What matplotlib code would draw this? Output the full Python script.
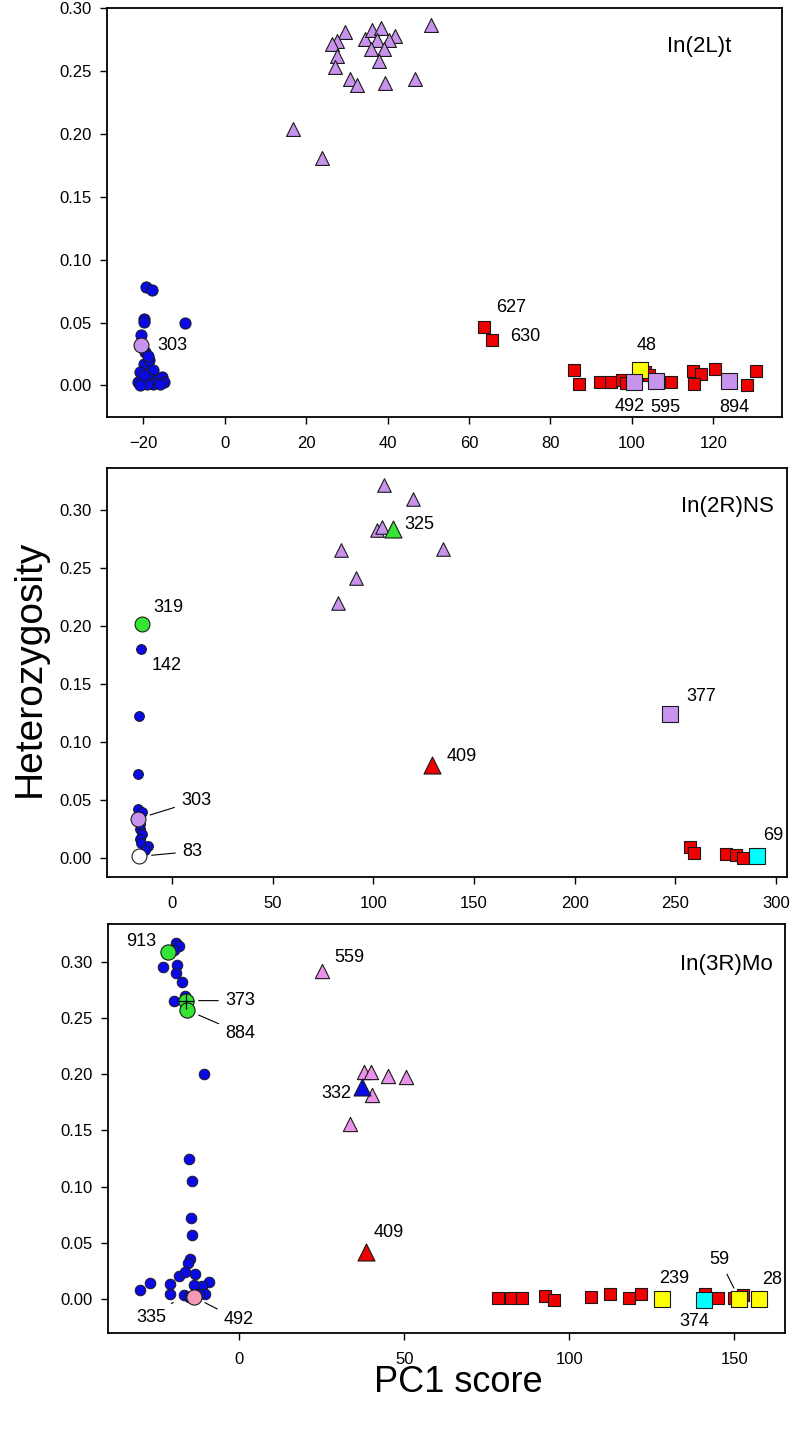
import matplotlib
matplotlib.use('Agg')
import matplotlib.pyplot as plt

plt.rcParams['font.family'] = ['Liberation Sans', 'DejaVu Sans']

# ================= DATA =================
# ---- Panel 1: In(2L)t ----
p1_title = 'In(2L)t'
p1_xticks = [-20, 0, 20, 40, 60, 80, 100, 120]
p1_circle_x = [-19.3, -17.9, -9.7, -19.9, -19.7, -20.5, -19.5, -19.8, -18.7, -17.6, -20.7,
               -19.9, -18.3, -16.6, -15.4, -15.0, -21.2, -17.5, -19.1, -20.7, -15.8, -19.7, -18.9]
p1_circle_y = [0.078, 0.076, 0.050, 0.053, 0.0505, 0.040, 0.0266, 0.0173, 0.020, 0.012, 0.0106,
               0.004, 0.0053, 0.004, 0.0066, 0.0026, 0.0026, 0.0013, 0.0013, 0.000, 0.0013, 0.008, 0.023]
p1_triangle_x = [29.5, 27.6, 26.4, 34.4, 36.3, 38.3, 41.8, 37.3, 40.4, 36.0, 39.1, 27.7, 37.9,
                 27.1, 30.7, 32.4, 39.3, 46.7, 50.8, 16.7, 24.0]
p1_triangle_y = [0.281, 0.274, 0.272, 0.276, 0.283, 0.284, 0.278, 0.275, 0.275, 0.268, 0.268,
                 0.262, 0.258, 0.253, 0.244, 0.239, 0.241, 0.244, 0.287, 0.204, 0.181]
p1_square_x = [63.8, 65.6, 85.7, 87.1, 92.2, 94.9, 97.6, 98.5, 103.3, 104.3, 109.6, 115.1, 116.9,
               115.3, 120.4, 128.4, 130.6]
p1_square_y = [0.0465, 0.0364, 0.0125, 0.0013, 0.0027, 0.0027, 0.0045, 0.0019, 0.0106, 0.008,
               0.0027, 0.0114, 0.0088, 0.0013, 0.0133, 0.0006, 0.0114]
p1_special_id = ['303', '48', '492', '595', '894']
p1_special_x = [-20.6, 102.0, 100.6, 105.9, 123.9]
p1_special_y = [0.032, 0.0125, 0.0027, 0.0032, 0.0034]
p1_label_text = ['303', '627', '630', '48', '492', '595', '894']
p1_label_x = [-20.6, 63.8, 65.6, 102.0, 100.6, 105.9, 123.9]
p1_label_y = [0.032, 0.0465, 0.0364, 0.0125, 0.0027, 0.0032, 0.0034]

# ---- Panel 2: In(2R)NS ----
p2_title = 'In(2R)NS'
p2_xticks = [0, 50, 100, 150, 200, 250, 300]
p2_circle_x = [-15.4, -16.3, -17.1, -16.8, -15.1, -15.9, -15.1, -15.9, -15.6, -11.8, -13.4, -16.0]
p2_circle_y = [0.180, 0.1227, 0.073, 0.0428, 0.040, 0.0256, 0.0213, 0.017, 0.0132, 0.0103, 0.0069, 0.030]
p2_triangle_x = [105.1, 119.6, 101.8, 104.3, 83.9, 134.5, 91.2, 82.7]
p2_triangle_y = [0.3216, 0.309, 0.283, 0.2856, 0.2655, 0.266, 0.241, 0.2195]
p2_square_x = [257.5, 259.5, 275.0, 280.0, 283.7]
p2_square_y = [0.0097, 0.0046, 0.0034, 0.0026, 0.0006]
p2_special_id = ['319', '303', '83', '325', '409', '377', '69']
p2_special_x = [-14.8, -16.8, -16.3, 109.8, 129.2, 247.4, 290.5]
p2_special_y = [0.2017, 0.0342, 0.0017, 0.2833, 0.080, 0.1247, 0.0023]
p2_label_text = ['319', '142', '325', '409', '303', '83', '377', '69']
p2_label_x = [-14.8, -15.4, 109.8, 129.2, -16.8, -16.3, 247.4, 290.5]
p2_label_y = [0.2017, 0.180, 0.2833, 0.080, 0.0342, 0.0017, 0.1247, 0.0023]

# ---- Panel 3: In(3R)Mo ----
p3_title = 'In(3R)Mo'
p3_xticks = [0, 50, 100, 150]
p3_circle_x = [-19.1, -18.4, -19.7, -23.1, -18.9, -19.1, -17.4, -19.9, -16.4, -10.8,
               -15.1, -14.3, -14.5, -14.3, -14.8, -15.7, -18.4, -13.3, -16.4, -27.0, -30.0,
               -21.1, -9.3, -11.3, -13.8, -20.9, -10.3, -16.9, -15.4, -12.3]
p3_circle_y = [0.3165, 0.314, 0.3105, 0.295, 0.297, 0.290, 0.282, 0.2654, 0.2696, 0.200,
               0.1243, 0.105, 0.0718, 0.057, 0.0362, 0.0318, 0.0205, 0.0222, 0.0243, 0.0145, 0.008,
               0.0133, 0.0154, 0.0116, 0.0125, 0.0045, 0.0045, 0.0036, 0.002, 0.005]
p3_triangle_x = [25.0, 37.9, 39.9, 45.1, 50.6, 40.2, 33.4]
p3_triangle_y = [0.292, 0.2022, 0.2022, 0.1987, 0.1978, 0.1815, 0.156]
p3_square_x = [78.4, 82.5, 85.6, 92.7, 95.4, 106.6, 112.5, 118.0, 121.9, 141.2, 145.2, 149.8, 152.8]
p3_square_y = [0.0012, 0.0012, 0.0012, 0.003, -0.0003, 0.002, 0.0045, 0.0012, 0.0045, 0.0045,
               0.0012, 0.0012, 0.0036]
p3_special_id = ['913', '373', '884', '492', '332', '409', '239', '374', '59', '28']
p3_special_x = [-21.6, -16.1, -15.8, -13.8, 37.2, 38.4, 128.0, 141.0, 151.6, 157.4]
p3_special_y = [0.309, 0.2654, 0.257, 0.002, 0.189, 0.042, 0.0, -0.001, 0.0, 0.0]
p3_label_text = ['913', '373', '884', '335', '492', '559', '332', '409', '239', '374', '59', '28']
p3_label_x = [-21.6, -16.1, -15.8, -16.9, -13.8, 25.0, 37.2, 38.4, 128.0, 141.0, 151.6, 157.4]
p3_label_y = [0.309, 0.2654, 0.257, 0.0036, 0.002, 0.292, 0.189, 0.042, 0.0, -0.001, 0.0, 0.0]

# ================= STYLES =================
BLUE = '#0a0ae6'
LAV = '#c893ec'
PINKV = '#ea92ea'
RED = '#f00000'
YEL = '#ffff00'
CYAN = '#00ffff'
GREEN = '#33e633'
PINK = '#f49ab4'
WHITE = '#ffffff'
EC = '#1a1a1a'

special_style = {
    1: {'303': ('o', LAV, 115), '48': ('s', YEL, 125), '492': ('s', LAV, 125),
        '595': ('s', LAV, 125), '894': ('s', LAV, 125)},
    2: {'319': ('o', GREEN, 115), '303': ('o', LAV, 115), '83': ('o', WHITE, 115),
        '325': ('^', GREEN, 150), '409': ('^', RED, 150), '377': ('s', LAV, 125),
        '69': ('s', CYAN, 125)},
    3: {'913': ('o', GREEN, 120), '373': ('o', GREEN, 120), '884': ('o', GREEN, 120),
        '492': ('o', PINK, 120), '332': ('^', BLUE, 150), '409': ('^', RED, 150),
        '239': ('s', YEL, 125), '374': ('s', CYAN, 125), '59': ('s', YEL, 125),
        '28': ('s', YEL, 125)},
}
# label offsets in pixels (dx, dy down-positive, ha, leader)
label_style = {
    1: {'303': (17, 0, 'left', False), '627': (12, -19, 'left', False),
        '630': (18, -3, 'left', False), '48': (7, -24, 'center', False),
        '492': (-5, 25, 'center', False), '595': (10, 26, 'center', False),
        '894': (5, 26, 'center', False)},
    2: {'319': (11, -17, 'left', False), '142': (11, 16, 'left', False),
        '325': (11, -5, 'left', False), '409': (15, -9, 'left', False),
        '303': (43, -18, 'left', True), '83': (43, -5, 'left', True),
        '377': (16, -17, 'left', False), '69': (6, -20, 'left', False)},
    3: {'913': (-12, -10, 'right', False), '373': (39, 0, 'left', True),
        '884': (38, 23, 'left', True), '335': (-17, 22, 'right', True),
        '492': (30, 23, 'left', True), '559': (13, -13, 'left', False),
        '332': (-11, 7, 'right', False), '409': (8, -19, 'left', False),
        '239': (-2, -21, 'left', False), '374': (5, 21, 'right', False),
        '59': (-20, -40, 'center', True), '28': (4, -20, 'left', False)},
}

fig = plt.figure(figsize=(7.93, 14.29), dpi=100)
H = 1429.0
W = 793.0

panels = [
    dict(n=1, rect=(107, 8, 782, 417), xlim=(-28.9, 136.9), ylim=(-0.0252, 0.3003),
         title=p1_title, xticks=p1_xticks,
         cx=p1_circle_x, cy=p1_circle_y, cs=65,
         tx=p1_triangle_x, ty=p1_triangle_y, tc=LAV, ts=100,
         sx=p1_square_x, sy=p1_square_y, ss=82,
         spid=p1_special_id, spx=p1_special_x, spy=p1_special_y,
         lt=p1_label_text, lx=p1_label_x, ly=p1_label_y, tpos=(0.878, 0.905)),
    dict(n=2, rect=(107, 468, 787, 877), xlim=(-32.3, 305.5), ylim=(-0.016, 0.336),
         title=p2_title, xticks=p2_xticks,
         cx=p2_circle_x, cy=p2_circle_y, cs=50,
         tx=p2_triangle_x, ty=p2_triangle_y, tc=LAV, ts=95,
         sx=p2_square_x, sy=p2_square_y, ss=78,
         spid=p2_special_id, spx=p2_special_x, spy=p2_special_y,
         lt=p2_label_text, lx=p2_label_x, ly=p2_label_y, tpos=(0.913, 0.905)),
    dict(n=3, rect=(108, 924, 785, 1333), xlim=(-39.8, 165.4), ylim=(-0.030, 0.3335),
         title=p3_title, xticks=p3_xticks,
         cx=p3_circle_x, cy=p3_circle_y, cs=58,
         tx=p3_triangle_x, ty=p3_triangle_y, tc=PINKV, ts=105,
         sx=p3_square_x, sy=p3_square_y, ss=78,
         spid=p3_special_id, spx=p3_special_x, spy=p3_special_y,
         lt=p3_label_text, lx=p3_label_x, ly=p3_label_y, tpos=(0.913, 0.9)),
]

yticks = [0.00, 0.05, 0.10, 0.15, 0.20, 0.25, 0.30]

for p in panels:
    l, t, r, b = p['rect']
    ax = fig.add_axes([l / W, 1 - b / H, (r - l) / W, (b - t) / H])
    ax.set_xlim(*p['xlim'])
    ax.set_ylim(*p['ylim'])
    ax.set_xticks(p['xticks'])
    ax.set_yticks(yticks)
    ax.set_yticklabels(['%.2f' % v for v in yticks])
    ax.tick_params(direction='out', length=5, width=1, labelsize=12, color='black')
    ax.tick_params(axis='x', pad=9)
    ax.tick_params(axis='y', pad=6)
    for s in ax.spines.values():
        s.set_linewidth(1.3)
        s.set_color('black')

    ax.scatter(p['cx'], p['cy'], s=p['cs'], c=BLUE, edgecolors=EC, linewidths=0.7, zorder=3)
    ax.scatter(p['tx'], p['ty'], s=p['ts'], c=p['tc'], marker='^', edgecolors=EC,
               linewidths=0.8, zorder=3)
    ax.scatter(p['sx'], p['sy'], s=p['ss'], c=RED, marker='s', edgecolors=EC,
               linewidths=0.8, zorder=3)
    st = special_style[p['n']]
    for sid, x, y in zip(p['spid'], p['spx'], p['spy']):
        m, col, sz = st[sid]
        ax.scatter([x], [y], s=sz, c=col, marker=m, edgecolors=EC, linewidths=0.8, zorder=4)
        if p['n'] == 3 and sid == '373':
            ax.scatter([x], [y], s=130, c='black', marker='+', linewidths=0.9, zorder=5)

    ls = label_style[p['n']]
    for txt, x, y in zip(p['lt'], p['lx'], p['ly']):
        dx, dy, ha, lead = ls[txt]
        kw = dict(xy=(x, y), xytext=(dx * 0.72, -dy * 0.72), textcoords='offset points',
                  ha=ha, va='center', fontsize=13, zorder=6)
        if lead:
            kw['arrowprops'] = dict(arrowstyle='-', lw=0.8, color='black',
                                    shrinkA=3, shrinkB=9)
        ax.annotate(txt, **kw)

    ax.text(p['tpos'][0], p['tpos'][1], p['title'], transform=ax.transAxes,
            ha='center', va='center', fontsize=16)

fig.text(30 / W, 1 - 668 / H, 'Heterozygosity', rotation=90, ha='center', va='center',
         fontsize=28)
fig.text(458 / W, 1 - 1383 / H, 'PC1 score', ha='center', va='center', fontsize=26)

fig.savefig('out.png', dpi=100)
